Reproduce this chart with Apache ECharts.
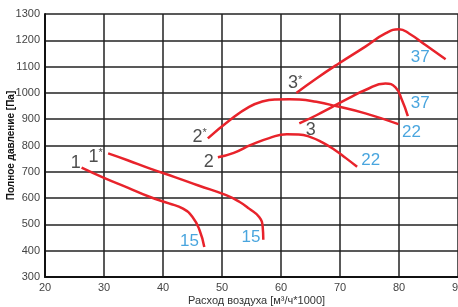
<!DOCTYPE html>
<html>
<head>
<meta charset="utf-8">
<script src="https://cdn.jsdelivr.net/npm/echarts@6/dist/echarts.min.js"></script>
<style>
  html, body { margin: 0; padding: 0; background: #fff; }
  #chart { width: 458px; height: 307px; }
</style>
</head>
<body>
<div id="chart"></div>
<script>
// fan curves: [airflow (x1000 m3/h), pressure Pa]
var curve1 = [[26.2, 716], [30, 677], [34, 640], [37.7, 605], [41, 580], [43.4, 560], [45, 528], [46.2, 478], [47, 414]];
var curve1s = [[30.7, 770], [34, 744], [37.7, 713], [42, 680], [46, 648], [50.7, 611], [53, 585], [54.6, 560], [56.3, 528], [56.9, 490], [57, 442]];
var curve2 = [[49.3, 755], [52, 772], [55, 803], [58, 828], [61, 843], [63, 842], [65, 832], [67, 812], [69, 785], [71, 752], [72.9, 719]];
var curve2s = [[47.6, 827], [51.3, 896], [54.6, 947], [57, 968], [59.1, 975], [61.4, 976], [63.1, 975], [66, 966], [69.3, 950], [74.3, 922], [79.9, 881]];
var curve3 = [[63.1, 884], [66, 915], [68.7, 947], [71.5, 980], [74.3, 1011], [77.7, 1036], [79.4, 1021], [80.5, 973], [81.5, 912]];
var curve3s = [[62.6, 1000], [66, 1055], [69.8, 1112], [74.3, 1176], [77.7, 1226], [80, 1242], [81.7, 1226], [84.5, 1182], [87.9, 1128]];

var curveNames = ['1', '1*', '2', '2*', '3', '3*'];
var curveLabels = [[25.2, 732, '1'], [28.6, 757, '1*'], [47.75, 738, '2'], [46.2, 833, '2*'], [65.05, 858, '3'], [62.4, 1036, '3*']];
var powerLabels = [[44.5, 437, '15'], [54.9, 452, '15'], [75.2, 744, '22'], [82.1, 852, '22'], [83.6, 1137, '37'], [83.6, 962, '37']];

var chart = echarts.init(document.getElementById('chart'));

var curves = [curve1, curve1s, curve2, curve2s, curve3, curve3s];
var series = curves.map(function (c, i) {
    return {
        name: curveNames[i],
        type: 'line',
        data: c,
        smooth: 0.5,
        showSymbol: false,
        lineStyle: { color: '#e8232b', width: 2.5 },
        z: 3
    };
});

function textSeries(list, color, size) {
    return {
        type: 'scatter',
        symbolSize: 0,
        data: list.map(function (d) { return { value: [d[0], d[1]], name: d[2] }; }),
        label: {
            show: true,
            position: 'inside',
            formatter: function (p) {
                var n = p.name;
                if (n.indexOf('*') > 0) return n.replace('*', '') + '{s|*}';
                return n;
            },
            rich: { s: { fontSize: 11, verticalAlign: 'top', color: color, padding: [0, 0, 6, 0] } },
            color: color,
            fontSize: size,
            fontFamily: 'Liberation Sans Narrow, Arial Narrow, sans-serif'
        },
        z: 4
    };
}
series.push(textSeries(curveLabels, '#222', 18));
series.push(textSeries(powerLabels, '#1b8fd6', 17));

function plain(v) { return String(v); }

var option = {
    animation: false,
    grid: { left: 45, right: 0, top: 14, bottom: 30, outerBoundsMode: 'none' },
    xAxis: {
        type: 'value',
        min: 20, max: 90, interval: 10,
        name: 'Расход воздуха [м³/ч*1000]',
        nameLocation: 'middle',
        nameGap: 18,
        nameMoveOverlap: false,
        nameTextStyle: { color: '#333', fontSize: 11, fontFamily: 'Liberation Sans Narrow, sans-serif', padding: [0, 0, 0, 10] },
        axisLine: { lineStyle: { color: '#111', width: 2 } },
        axisTick: { show: false },
        axisLabel: { color: '#444', fontSize: 11, margin: 5, formatter: plain, fontFamily: 'Liberation Sans Narrow, sans-serif' },
        splitLine: { lineStyle: { color: '#222', width: 1.5 } }
    },
    yAxis: {
        type: 'value',
        min: 300, max: 1300, interval: 100,
        name: 'Полное давление [Па]',
        nameLocation: 'middle',
        nameGap: 29,
        nameMoveOverlap: false,
        nameTextStyle: { color: '#111', fontSize: 10, fontWeight: 'bold', fontFamily: 'Liberation Sans Narrow, sans-serif' },
        axisLine: { show: true, lineStyle: { color: '#111', width: 2 } },
        axisTick: { show: false },
        axisLabel: { color: '#444', fontSize: 11, margin: 5, formatter: plain, fontFamily: 'Liberation Sans Narrow, sans-serif' },
        splitLine: { lineStyle: { color: '#222', width: 1.5 } }
    },
    series: series
};

chart.setOption(option);
</script>
</body>
</html>
